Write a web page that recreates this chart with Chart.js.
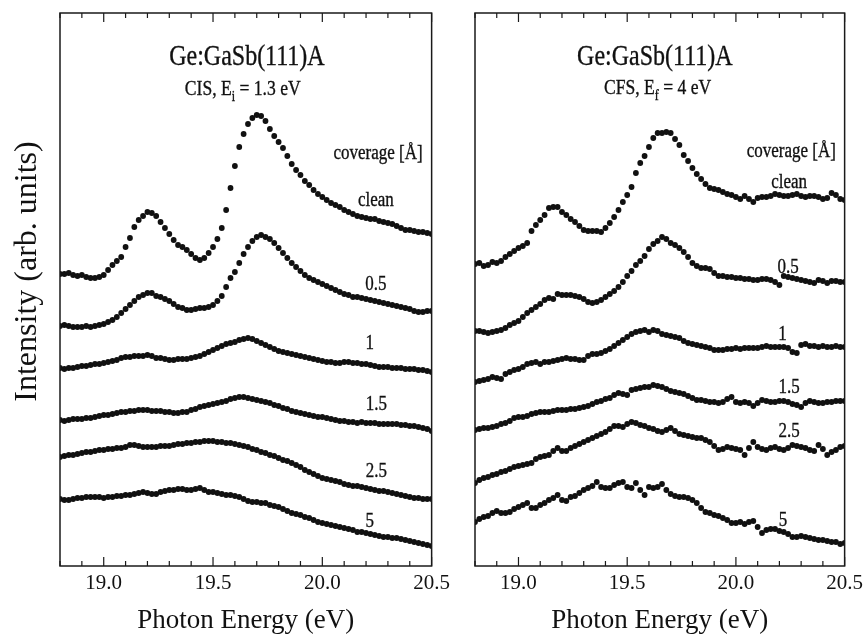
<!DOCTYPE html>
<html>
<head>
<meta charset="utf-8">
<script src="https://cdn.jsdelivr.net/npm/chart.js@4.4.1/dist/chart.umd.min.js"></script>
<style>
html,body{margin:0;padding:0;background:#fff;}
#wrap{position:relative;width:868px;height:637px;overflow:hidden;background:#fff;}
#c1{position:absolute;left:0;top:0;}
#c2{position:absolute;left:455px;top:0;}
</style>
</head>
<body>
<div id="wrap">
<canvas id="c1" width="455" height="637"></canvas>
<canvas id="c2" width="413" height="637"></canvas>
</div>
<script>
// ---------- data ----------
const energy = [
18.80,18.82,18.84,18.86,18.88,18.90,18.92,18.94,18.96,18.98,
19.00,19.02,19.04,19.06,19.08,19.10,19.12,19.14,19.16,19.18,
19.20,19.22,19.24,19.26,19.28,19.30,19.32,19.34,19.36,19.38,
19.40,19.42,19.44,19.46,19.48,19.50,19.52,19.54,19.56,19.58,
19.60,19.62,19.64,19.66,19.68,19.70,19.72,19.74,19.76,19.78,
19.80,19.82,19.84,19.86,19.88,19.90,19.92,19.94,19.96,19.98,
20.00,20.02,20.04,20.06,20.08,20.10,20.12,20.14,20.16,20.18,
20.20,20.22,20.24,20.26,20.28,20.30,20.32,20.34,20.36,20.38,
20.40,20.42,20.44,20.46,20.48,20.50];

const coverages = ['clean','0.5','1','1.5','2.5','5'];

// CIS, Ei = 1.3 eV (left panel), intensities in arbitrary units incl. offsets
const cisClean = [
292,292,293,291,290,291,289,288,288,289,
291,296,301,305,309,319,328,339,346,350,
354,353,350,344,338,332,326,321,319,316,
312,308,306,308,313,319,327,338,356,378,
400,419,432,442,448,451,450,445,437,430,
424,418,410,402,396,391,385,381,376,372,
369,366,363,361,359,356,354,352,350,349,
348,347,347,345,344,343,342,340,338,336,
336,335,334,334,333,332];
const cis05 = [
240,241,240,239,239,239,240,239,240,241,
242,244,246,249,253,257,261,265,269,271,
273,273,270,269,267,265,262,259,258,256,
256,257,258,258,259,261,265,270,279,288,
294,303,312,319,325,329,331,329,327,323,
318,313,308,303,299,295,291,288,286,284,
282,280,278,276,274,272,271,269,269,268,
267,266,265,264,263,262,261,260,259,258,
257,255,254,254,255,255];
const cis1 = [
198,197,198,198,199,200,200,201,202,202,
203,204,205,206,208,209,209,210,210,210,
211,210,208,208,207,206,206,207,207,207,
208,209,210,212,214,216,218,220,222,223,
224,226,227,228,227,225,223,221,219,217,
215,214,213,212,211,210,209,208,207,206,
205,204,204,203,203,204,204,203,203,202,
202,201,200,199,199,199,198,198,198,197,
197,197,196,196,195,194];
const cis15 = [
146,145,146,147,147,147,148,148,149,150,
151,151,152,153,154,154,155,155,156,156,
156,155,155,155,154,154,153,153,154,154,
156,157,159,160,161,162,163,164,165,167,
168,169,169,168,167,166,165,164,163,161,
160,158,157,155,154,153,152,151,150,149,
149,148,147,146,145,145,144,144,143,144,
143,143,143,142,142,142,142,142,141,141,
140,140,139,138,137,135];
const cis25 = [
109,110,111,111,112,113,114,114,115,116,
116,117,117,118,118,119,121,121,120,119,
119,119,119,120,120,120,121,122,122,123,
123,124,124,125,125,125,124,124,123,123,
122,121,120,119,117,116,114,113,111,110,
108,106,105,103,101,99,96,94,92,90,
88,87,86,85,84,82,81,80,80,79,
78,77,76,75,75,74,73,72,71,70,
69,68,68,67,67,67];
const cis5 = [
67,66,66,67,68,68,69,69,69,69,
68,69,69,70,70,71,71,72,73,74,
73,72,72,74,75,76,76,77,77,76,
76,77,78,76,74,74,73,72,71,71,
70,69,67,65,64,64,63,63,61,60,
59,57,55,53,52,51,49,48,46,44,
43,42,41,40,39,38,37,36,34,34,
33,32,31,30,29,29,28,28,27,26,
25,24,23,22,21,20];

// CFS, Ef = 4 eV (right panel)
const cfsClean = [
302,303,300,301,304,303,305,309,312,315,
318,320,323,335,341,346,351,358,359,359,
354,351,347,344,340,336,335,335,335,334,
338,343,349,356,364,371,379,393,403,410,
419,428,433,433,434,433,427,421,411,405,
398,392,387,382,378,377,376,374,372,371,
369,367,370,367,364,368,369,369,370,372,
371,370,370,371,372,370,369,370,370,369,
367,368,373,371,367,366];
const cfs05 = [
235,235,234,233,234,235,236,238,241,243,
245,249,253,256,259,262,266,268,267,272,
271,271,271,270,269,267,264,263,264,266,
269,272,275,279,284,290,295,301,305,310,
317,322,325,329,327,323,321,318,314,309,
303,300,298,298,297,293,290,290,289,289,
288,288,287,287,286,286,287,287,286,284,
281,290,289,288,287,286,285,284,283,286,
285,283,285,285,284,284];
const cfs1 = [
184,185,186,187,189,188,187,192,194,196,
197,199,202,203,204,202,204,204,205,206,
207,208,207,207,206,206,210,212,212,213,
215,217,220,223,226,229,232,234,235,236,
234,236,235,232,231,230,229,228,225,223,
222,221,220,219,218,216,216,216,217,217,
218,217,218,218,218,218,219,220,219,219,
219,219,218,214,213,221,222,220,220,219,
220,219,219,220,219,219];
const cfs15 = [
136,137,138,138,139,140,142,143,145,148,
149,149,150,152,153,154,154,154,155,156,
156,156,157,157,158,159,160,162,164,165,
167,168,171,173,172,171,176,177,178,179,
179,181,180,179,177,175,174,173,172,170,
168,166,166,165,164,164,163,164,167,169,
164,163,164,163,160,163,166,165,164,164,
165,165,164,162,161,159,163,165,164,163,
163,164,164,165,165,165];
const cfs25 = [
83,86,88,89,91,92,94,95,97,99,
100,101,102,103,107,109,110,111,115,118,
115,115,118,120,122,124,126,128,130,132,
134,137,140,140,139,142,144,143,141,140,
138,137,135,134,136,138,135,132,131,130,
129,128,128,126,124,120,116,117,119,118,
117,116,111,118,124,119,117,116,118,119,
117,116,118,121,120,119,118,116,115,121,
117,111,114,116,119,120];
const cfs5 = [
44,47,49,50,53,55,53,53,54,57,
59,61,63,58,58,61,63,66,68,71,
66,65,69,70,73,76,78,80,84,79,
78,78,81,83,84,79,78,83,76,71,
79,78,79,82,76,72,70,69,69,68,
66,63,58,54,53,51,50,48,46,43,
43,44,42,44,45,39,33,36,37,37,
35,34,32,29,29,30,29,28,27,26,
26,25,24,24,22,23];

const xMin = 18.8, xMax = 20.5, xStep = 0.1;
const yMin = 0, yMax = 553;

// ---------- text / placement (separate from data) ----------
const FONT = "'Liberation Serif','DejaVu Serif',serif";

const leftText = {
  title: {x: 19.655, y: 509},
  sub: {x: 19.636, y: 478.5, parts: [['CIS, E', false], ['i', true], [' = 1.3 eV', false]]},
  coverage: {x: 20.255, y: 412},
  labels: [
    {x: 20.245, y: 365}, {x: 20.245, y: 281.5}, {x: 20.217, y: 222},
    {x: 20.247, y: 161}, {x: 20.247, y: 94.5}, {x: 20.217, y: 44.5}
  ],
  yTitle: true
};
const rightText = {
  title: {x: 19.627, y: 509},
  sub: {x: 19.64, y: 479, parts: [['CFS, E', false], ['f', true], [' = 4 eV', false]]},
  coverage: {x: 20.255, y: 414},
  labels: [
    {x: 20.245, y: 383}, {x: 20.24, y: 298.5}, {x: 20.214, y: 231},
    {x: 20.245, y: 178}, {x: 20.245, y: 134}, {x: 20.217, y: 45}
  ],
  yTitle: false
};

function drawScaled(ctx, str, x, y, size, sx) {
  ctx.save();
  ctx.translate(x, y);
  ctx.scale(sx, 1);
  ctx.font = size + 'px ' + FONT;
  ctx.textAlign = 'center';
  ctx.textBaseline = 'middle';
  ctx.fillText(str, 0, 0);
  ctx.lineWidth = 0.35;
  ctx.strokeText(str, 0, 0);
  ctx.restore();
}

function drawRich(ctx, parts, cx, cy, size, subSize, sx) {
  ctx.save();
  ctx.translate(cx, cy);
  ctx.scale(sx, 1);
  ctx.textAlign = 'left';
  ctx.textBaseline = 'alphabetic';
  ctx.lineWidth = 0.35;
  let total = 0;
  const widths = parts.map(p => {
    ctx.font = (p[1] ? subSize : size) + 'px ' + FONT;
    const w = ctx.measureText(p[0]).width;
    total += w;
    return w;
  });
  let x = -total / 2;
  const base = size * 0.33;
  parts.forEach((p, i) => {
    ctx.font = (p[1] ? subSize : size) + 'px ' + FONT;
    const yy = p[1] ? base + size * 0.28 : base;
    ctx.fillText(p[0], x, yy);
    ctx.strokeText(p[0], x, yy);
    x += widths[i];
  });
  ctx.restore();
}

function panelPlugin(txt) {
  return {
    id: 'panelDecor',
    afterDraw(chart) {
      const {ctx, chartArea: a} = chart;
      const xs = chart.scales.x, ys = chart.scales.y;
      ctx.save();
      ctx.strokeStyle = '#1a1a1a';
      ctx.lineWidth = 1.5;
      ctx.strokeRect(a.left, a.top, a.right - a.left, a.bottom - a.top);
      ctx.lineWidth = 1.2;
      xs.ticks.forEach(t => {
        const px = xs.getPixelForValue(t.value);
        const len = (t.label && t.label !== '') ? 9 : 5;
        ctx.beginPath();
        ctx.moveTo(px, a.bottom); ctx.lineTo(px, a.bottom - len);
        ctx.moveTo(px, a.top); ctx.lineTo(px, a.top + len);
        ctx.stroke();
      });
      ctx.fillStyle = '#111';
      ctx.strokeStyle = '#111';
      drawScaled(ctx, 'Ge:GaSb(111)A', xs.getPixelForValue(txt.title.x), ys.getPixelForValue(txt.title.y), 30, 0.8);
      drawRich(ctx, txt.sub.parts, xs.getPixelForValue(txt.sub.x), ys.getPixelForValue(txt.sub.y), 22, 15, 0.8);
      drawScaled(ctx, 'coverage [Å]', xs.getPixelForValue(txt.coverage.x), ys.getPixelForValue(txt.coverage.y), 20, 0.85);
      txt.labels.forEach((p, i) => {
        drawScaled(ctx, coverages[i], xs.getPixelForValue(p.x), ys.getPixelForValue(p.y), 20, 0.85);
      });
      if (txt.yTitle) {
        ctx.save();
        ctx.translate(28, (a.top + a.bottom) / 2 - 18);
        ctx.rotate(-Math.PI / 2);
        ctx.font = '32px ' + FONT;
        ctx.textAlign = 'center';
        ctx.textBaseline = 'middle';
        ctx.fillText('Intensity (arb. units)', 0, 0);
        ctx.restore();
      }
      ctx.restore();
    }
  };
}

function makePanel(canvasId, series, txt, padLeft, padRight) {
  const datasets = series.map((s, i) => ({
    label: coverages[i],
    data: energy.map((e, k) => ({x: e, y: s[k]})),
    showLine: false,
    pointRadius: 2.9,
    pointHoverRadius: 2.9,
    pointBorderWidth: 0,
    pointBackgroundColor: '#111',
    borderColor: '#111'
  }));
  return new Chart(document.getElementById(canvasId), {
    type: 'scatter',
    data: {datasets},
    options: {
      responsive: false,
      animation: false,
      events: [],
      layout: {padding: {left: padLeft, right: padRight, top: 13, bottom: 0}},
      plugins: {legend: {display: false}, tooltip: {enabled: false}},
      scales: {
        x: {
          type: 'linear', min: xMin, max: xMax,
          afterFit(scale) { scale.height = 71; },
          grid: {display: false, drawTicks: false},
          border: {display: false},
          ticks: {
            stepSize: xStep, autoSkip: false, maxRotation: 0, minRotation: 0,
            padding: 5, color: '#111',
            font: {family: FONT, size: 21},
            callback(v) {
              const d = v * 2;
              return Math.abs(d - Math.round(d)) < 1e-6 ? Number(v).toFixed(1) : '';
            }
          },
          title: {
            display: true, text: 'Photon Energy (eV)', color: '#111',
            font: {family: FONT, size: 27}, padding: {top: 0, bottom: 0}
          }
        },
        y: {display: false, min: yMin, max: yMax}
      }
    },
    plugins: [panelPlugin(txt)]
  });
}

makePanel('c1', [cisClean, cis05, cis1, cis15, cis25, cis5], leftText, 60, 23);
makePanel('c2', [cfsClean, cfs05, cfs1, cfs15, cfs25, cfs5], rightText, 20, 19);
</script>
</body>
</html>
